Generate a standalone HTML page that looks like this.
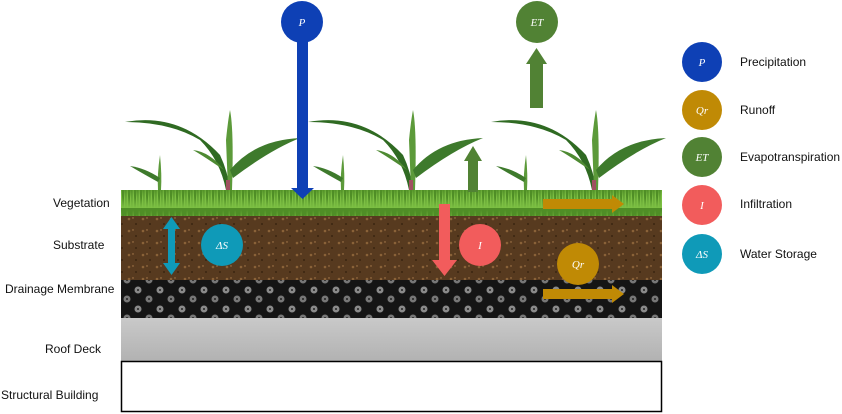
<!DOCTYPE html>
<html><head><style>
html,body{margin:0;padding:0;background:#fff;}
body{width:842px;height:414px;overflow:hidden;position:relative;font-family:"Liberation Sans",sans-serif;}
.lbl{position:absolute;font-size:12px;color:#111;}
</style></head><body>
<svg width="842" height="414" style="position:absolute;left:0;top:0">
<defs>
<pattern id="grass" width="6" height="26" patternUnits="userSpaceOnUse">
<rect width="6" height="26" fill="#4f8e26"/>
<path d="M0 26 L1 2 L3 26 M3 26 L5 6 L6 26" fill="#7cbf43"/>
</pattern>
<pattern id="soil" width="14" height="12" patternUnits="userSpaceOnUse">
<rect width="14" height="12" fill="#573a1f"/>
<circle cx="3" cy="3" r="1.3" fill="#8a6238"/><circle cx="10" cy="8" r="1" fill="#3a2410"/><circle cx="7" cy="2" r="0.7" fill="#b08050"/>
</pattern>
<pattern id="mem" width="22" height="19" patternUnits="userSpaceOnUse">
<rect width="22" height="19" fill="#151515"/>
<circle cx="6" cy="5" r="3.5" fill="#8a8a8a"/><circle cx="17" cy="14" r="3.5" fill="#777"/><circle cx="6" cy="5" r="1" fill="#222"/><circle cx="17" cy="14" r="1" fill="#222"/>
</pattern>
<linearGradient id="deck" x1="0" y1="0" x2="0" y2="1"><stop offset="0" stop-color="#c9c9c9"/><stop offset="1" stop-color="#b2b2b2"/></linearGradient>
<g id="plant">
<path d="M5 122 Q60 112 100 155 Q108 172 110 190 L106 190 Q100 160 80 140 Q50 122 5 122Z" fill="#2f6a22"/>
<path d="M108 190 L106 140 Q108 120 110 110 Q114 130 112 190Z" fill="#5c9a3a"/>
<path d="M110 170 Q135 140 180 138 Q150 150 113 178Z" fill="#3e7a2c"/>
<path d="M92 162 Q80 154 73 150 Q90 152 104 170Z" fill="#4e8a32"/>
<path d="M38 190 Q37 175 40 155 Q42 175 41 190Z" fill="#5c9a3a"/>
<path d="M38 182 Q20 172 10 166 Q25 168 40 178Z" fill="#3e7a2c"/>
<rect x="106" y="180" width="4" height="12" fill="#a05060"/>
</g>
</defs>
<use href="#plant" x="120" y="0"/>
<use href="#plant" x="303" y="0"/>
<use href="#plant" x="486" y="0"/>
<rect x="121" y="190" width="541" height="26" fill="url(#grass)"/>
<rect x="121" y="216" width="541" height="64" fill="url(#soil)"/>
<rect x="121" y="280" width="541" height="38" fill="url(#mem)"/>
<rect x="121" y="318" width="541" height="43" fill="url(#deck)"/>
<rect x="121.5" y="361.5" width="540" height="50" fill="#fff" stroke="#000" stroke-width="1.5"/>
<rect x="297" y="38" width="11" height="150" fill="#0e40b5"/>
<polygon points="291,188 314,188 302.5,199" fill="#0e40b5"/>
<circle cx="302" cy="22" r="21" fill="#0e40b5"/>
<rect x="530" y="63" width="13" height="45" fill="#518234"/>
<polygon points="526,64 547,64 536.5,48" fill="#518234"/>
<circle cx="537" cy="22" r="21" fill="#518234"/>
<rect x="468" y="160" width="10" height="32" fill="#518234"/>
<polygon points="464,161 482,161 473,146" fill="#518234"/>
<rect x="543" y="199" width="70" height="10" fill="#c08a05"/>
<polygon points="612,195 624,204 612,213" fill="#c08a05"/>
<rect x="543" y="289" width="70" height="10" fill="#c08a05"/>
<polygon points="612,285 624,294 612,303" fill="#c08a05"/>
<circle cx="578" cy="264" r="21" fill="#c08a05"/>
<rect x="439" y="204" width="11" height="57" fill="#f25c5c"/>
<polygon points="432,260 457,260 444.5,276" fill="#f25c5c"/>
<circle cx="480" cy="245" r="21" fill="#f25c5c"/>
<rect x="168" y="228" width="7" height="36" fill="#0f9ab8"/>
<polygon points="163,229 180,229 171.5,217" fill="#0f9ab8"/>
<polygon points="163,263 180,263 171.5,275" fill="#0f9ab8"/>
<circle cx="222" cy="245" r="21" fill="#0f9ab8"/>
<circle cx="702" cy="62" r="20" fill="#0e40b5"/>
<circle cx="702" cy="110" r="20" fill="#c08a05"/>
<circle cx="702" cy="157" r="20" fill="#518234"/>
<circle cx="702" cy="205" r="20" fill="#f25c5c"/>
<circle cx="702" cy="254" r="20" fill="#0f9ab8"/>
<g fill="#fff" font-family="Liberation Serif,serif" font-style="italic" font-size="11" text-anchor="middle">
<text x="302" y="26">P</text><text x="537" y="26">ET</text><text x="578" y="268">Qr</text>
<text x="480" y="249">I</text><text x="222" y="249">ΔS</text>
<text x="702" y="66">P</text><text x="702" y="114">Qr</text><text x="702" y="161">ET</text>
<text x="702" y="209">I</text><text x="702" y="258">ΔS</text>
</g>
</svg>
<div class="lbl" style="left:740px;top:55px">Precipitation</div>
<div class="lbl" style="left:740px;top:103px">Runoff</div>
<div class="lbl" style="left:740px;top:150px">Evapotranspiration</div>
<div class="lbl" style="left:740px;top:197px">Infiltration</div>
<div class="lbl" style="left:740px;top:247px">Water Storage</div>
<div class="lbl" style="left:53px;top:196px">Vegetation</div>
<div class="lbl" style="left:53px;top:238px">Substrate</div>
<div class="lbl" style="left:5px;top:282px">Drainage Membrane</div>
<div class="lbl" style="left:45px;top:342px">Roof Deck</div>
<div class="lbl" style="left:1px;top:388px">Structural Building</div>
</body></html>
